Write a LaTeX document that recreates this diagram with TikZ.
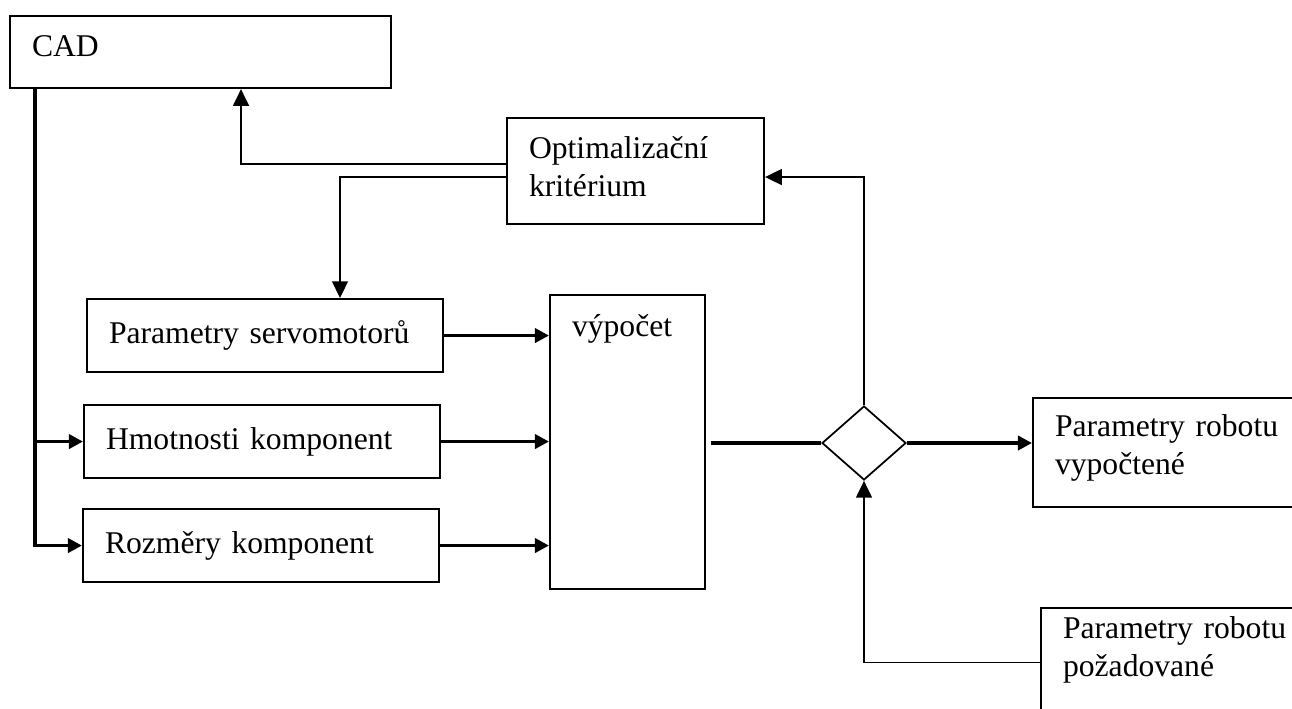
\documentclass[tikz,border=0pt]{standalone}
\usepackage{fontspec}
\setmainfont{Liberation Serif}
\usetikzlibrary{arrows.meta,shapes.geometric}

\begin{document}
\begin{tikzpicture}[x=0.02cm,y=-0.02cm,
  every node/.style={font=\fontsize{18}{22}\selectfont},
  box/.style={draw,line width=1.2pt,anchor=north west,align=left,inner xsep=0.44cm,inner ysep=0pt},
  link/.style={line width=1pt,-{Triangle[length=9.5pt,width=9pt]}},
  flow/.style={line width=2pt},
  >={Triangle[length=8pt,width=8pt]}]
 \clip (0,0) rectangle (1292,708);
 \node[box,text width=6.74cm,minimum height=1.44cm,text height=0.42cm,text depth=0.26cm] (cad) at (9,15) {CAD};
 \node[box,text width=4.26cm,minimum height=2.12cm,text height=0.44cm,text depth=0.96cm] (opt) at (506,117) {Optimalizační\\kritérium};
 \node[box,text width=6.24cm,minimum height=1.46cm] (servo) at (86,298) {Parametry servomotorů};
 \node[box,text width=6.24cm,minimum height=1.46cm] (hmot) at (83,404) {Hmotnosti komponent};
 \node[box,text width=6.24cm,minimum height=1.46cm] (rozm) at (82,508) {Rozměry komponent};
 \node[box,text width=2.22cm,minimum height=5.88cm,text height=0.5cm,text depth=4.74cm] (vyp) at (549,294) {výpočet};
 \node[draw,diamond,line width=1pt,inner sep=0pt,minimum width=1.68cm,minimum height=1.48cm] (dia) at (864,443) {};
 \node[box,text width=5.12cm,minimum height=2.18cm,text height=0.44cm,text depth=1.1cm] (vypoc) at (1032,397) {Parametry robotu\\vypočtené};
 \node[box,text width=5.12cm,minimum height=2.18cm,text height=0.44cm,text depth=1.42cm] (poz) at (1040,607) {Parametry robotu\\požadované};

 % CAD feeds the component data
 \coordinate (cadx) at ([xshift=0.52cm]cad.south west);
 \draw[flow,->] (cadx) |- (rozm.west);
 \draw[flow,->] (cadx |- hmot.west) -- (hmot.west);

 % feedback from the criterion
 \draw[link] ([yshift=0.14cm]opt.west) -| ([xshift=0.81cm]cad.south);
 \draw[link] ([yshift=-0.12cm]opt.west) -| ([xshift=1.5cm]servo.north);

 \foreach \b in {servo,hmot,rozm}
   \draw[flow,->] (\b.east) -- (\b.east -| vyp.west);

 \coordinate (vout) at ([xshift=0.1cm]vyp.east);
 \draw[flow] (vout |- dia.west) -- (dia.west);
 \draw[flow,->] (dia.east) -- (dia.east -| vypoc.west);
 \draw[link] (dia.north) |- ([yshift=-0.12cm]opt.east);
 \draw[link] (poz.west) -| (dia.south);
\end{tikzpicture}
\end{document}
